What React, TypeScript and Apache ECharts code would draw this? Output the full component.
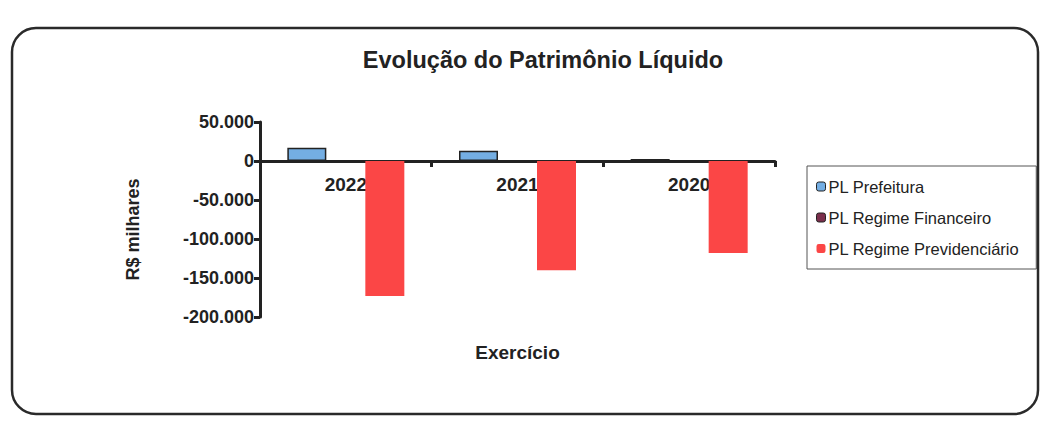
import React, { useEffect, useRef } from "react";
import * as echarts from "echarts";

const categories = ["2022", "2021", "2020"];
const plPrefeitura = [17000, 13000, 2500];
const plRegimeFinanceiro = [200, 150, 100];
const plRegimePrevidenciario = [-173000, -140000, -118000];
const yTicks = { min: -200000, max: 50000, interval: 50000 };

const fmt = (v: number) => {
  const s = Math.abs(v).toString().replace(/\B(?=(\d{3})+(?!\d))/g, ".");
  return (v < 0 ? "-" : "") + s;
};

export default function App() {
  const ref = useRef<HTMLDivElement>(null);
  useEffect(() => {
    if (!ref.current) return;
    const chart = echarts.init(ref.current, undefined, { renderer: "svg" });
    const font = "Liberation Sans, Arial, sans-serif";
    chart.setOption({
      animation: false,
      backgroundColor: "#ffffff",
      textStyle: { fontFamily: font },
      title: {
        text: "Evolução do Patrimônio Líquido",
        left: 538,
        textAlign: "center",
        top: 43,
        textStyle: { fontSize: 23.5, fontWeight: "bold", color: "#222", fontFamily: font },
      },
      legend: {
        orient: "vertical",
        left: 807,
        top: 166,
        itemWidth: 9,
        itemHeight: 9,
        itemGap: 14,
        padding: [12, 17, 12, 9],
        borderColor: "#555",
        borderWidth: 1,
        textStyle: { fontSize: 16.5, color: "#222", fontFamily: font, padding: [0, 0, 0, -2] },
        data: [
          { name: "PL Prefeitura", itemStyle: { borderColor: "#222", borderWidth: 1 } },
          { name: "PL Regime Financeiro", itemStyle: { borderColor: "#222", borderWidth: 1 } },
          { name: "PL Regime Previdenciário", itemStyle: { borderWidth: 0 } },
        ],
      },
      grid: { left: 260, right: 271, top: 122, bottom: 107, containLabel: false, outerBoundsMode: "none" },
      xAxis: {
        type: "category",
        data: categories,
        name: "Exercício",
        nameLocation: "middle",
        nameGap: 26,
        nameMoveOverlap: false,
        nameTextStyle: { fontSize: 19, fontWeight: "bold", color: "#222", fontFamily: font, verticalAlign: "top" },
        axisLine: { onZero: true, lineStyle: { color: "#222", width: 3 } },
        axisTick: { show: true, length: 6, lineStyle: { color: "#222", width: 3 } },
        axisLabel: { fontSize: 19, fontWeight: "bold", color: "#222", margin: -142, fontFamily: font },
        splitLine: { show: false },
      },
      yAxis: {
        type: "value",
        min: yTicks.min,
        max: yTicks.max,
        interval: yTicks.interval,
        name: "R$ milhares",
        nameLocation: "middle",
        nameGap: 118,
        nameRotate: 90,
        nameTextStyle: { fontSize: 18, fontWeight: "bold", color: "#222", fontFamily: font, padding: [0, 20, 0, 0] },
        axisLine: { show: true, lineStyle: { color: "#222", width: 3 } },
        axisTick: { show: true, length: 6, lineStyle: { color: "#222", width: 3 } },
        axisLabel: { fontSize: 18, fontWeight: "bold", color: "#222", margin: 6, formatter: fmt, fontFamily: font },
        splitLine: { show: false },
      },
      series: [
        {
          name: "PL Prefeitura",
          type: "bar",
          data: plPrefeitura,
          barWidth: 39,
          barGap: "0%",
          itemStyle: { color: "#74aee3", borderColor: "#222", borderWidth: 1.5 },
        },
        {
          name: "PL Regime Financeiro",
          type: "bar",
          data: plRegimeFinanceiro,
          barWidth: 39,
          barGap: "0%",
          itemStyle: { color: "#7a2f4c", borderColor: "#222", borderWidth: 1 },
        },
        {
          name: "PL Regime Previdenciário",
          type: "bar",
          data: plRegimePrevidenciario,
          barWidth: 39,
          barGap: "0%",
          itemStyle: { color: "#fb4646" },
        },
      ],
      graphic: [
        {
          type: "rect",
          z: 100,
          silent: true,
          shape: { x: 12, y: 28, width: 1026, height: 386, r: 24 },
          style: { fill: "none", stroke: "#2a2a2a", lineWidth: 2.5 },
        },
      ],
    });
    return () => chart.dispose();
  }, []);
  return (
    <div
      ref={ref}
      style={{ position: "absolute", left: 0, top: 0, width: 1046, height: 424, background: "#fff" }}
    />
  );
}
